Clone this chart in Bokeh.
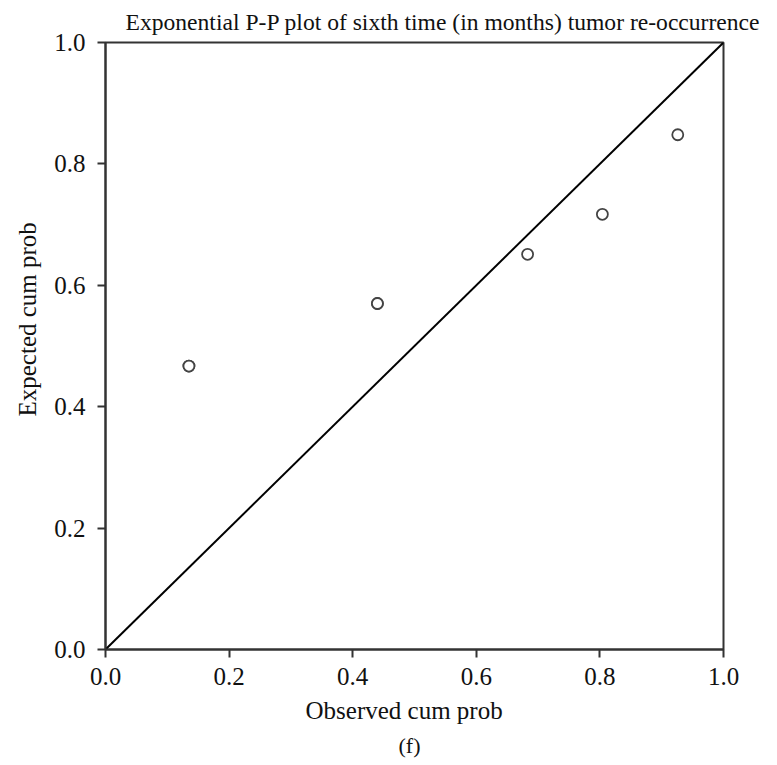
from bokeh.plotting import figure
from bokeh.models import Range1d, FixedTicker, ColumnDataSource, Title
from bokeh.embed import file_html
from bokeh.resources import INLINE

# Data
observed = [0.135, 0.135, 0.44, 0.44, 0.683, 0.804, 0.926]
expected = [0.467, 0.467, 0.570, 0.570, 0.651, 0.717, 0.848]
diag_x = [0.0, 1.0]
diag_y = [0.0, 1.0]
ticks = [0.0, 0.2, 0.4, 0.6, 0.8, 1.0]

FONT = "Liberation Serif"
INK = "#111111"

p = figure(width=777, height=765, output_backend="svg", toolbar_location=None,
           x_range=Range1d(0, 1), y_range=Range1d(0, 1),
           min_border_left=105, min_border_right=54, min_border_top=42, min_border_bottom=116)

p.title.text = "Exponential P-P plot of sixth time (in months) tumor re-occurrence"
p.title.text_font = FONT
p.title.text_font_size = "23.6px"
p.title.text_font_style = "normal"
p.title.text_color = INK
p.title.align = "left"
p.title.offset = 20
p.title.standoff = 14
p.title.vertical_align = "middle"

p.xgrid.visible = False
p.ygrid.visible = False
p.outline_line_color = "#333333"
p.outline_line_width = 2
p.background_fill_color = "white"
p.border_fill_color = "white"

for ax in (p.xaxis[0], p.yaxis[0]):
    ax.ticker = FixedTicker(ticks=ticks)
    ax.major_label_overrides = {t: f"{t:.1f}" for t in ticks}
    ax.axis_line_color = "#333333"
    ax.axis_line_width = 2
    ax.major_tick_line_color = "#333333"
    ax.major_tick_line_width = 2
    ax.major_tick_out = 8
    ax.major_tick_in = 0
    ax.minor_tick_line_color = None
    ax.major_label_text_font = FONT
    ax.major_label_text_font_size = "25px"
    ax.major_label_text_color = INK

p.xaxis.major_label_standoff = 10
p.yaxis.major_label_standoff = 12

# axis titles and caption as titles (placed outside the axes)
p.add_layout(Title(text="Observed cum prob", text_font=FONT, text_font_size="25px",
                   text_font_style="normal", text_color=INK, align="left",
                   offset=200, standoff=14), "below")
p.add_layout(Title(text="(f)", text_font=FONT, text_font_size="22px",
                   text_font_style="normal", text_color=INK, align="left",
                   offset=293, standoff=0), "below")
p.add_layout(Title(text="Expected cum prob", text_font=FONT, text_font_size="25px",
                   text_font_style="normal", text_color=INK, align="left",
                   offset=233, standoff=21), "left")

p.line(diag_x, diag_y, line_color="black", line_width=2)

src = ColumnDataSource(dict(x=observed, y=expected))
p.scatter("x", "y", source=src, size=11, marker="circle", fill_color="white",
          line_color="#444444", line_width=1.8)

open("out.html", "w").write(file_html(p, INLINE))
